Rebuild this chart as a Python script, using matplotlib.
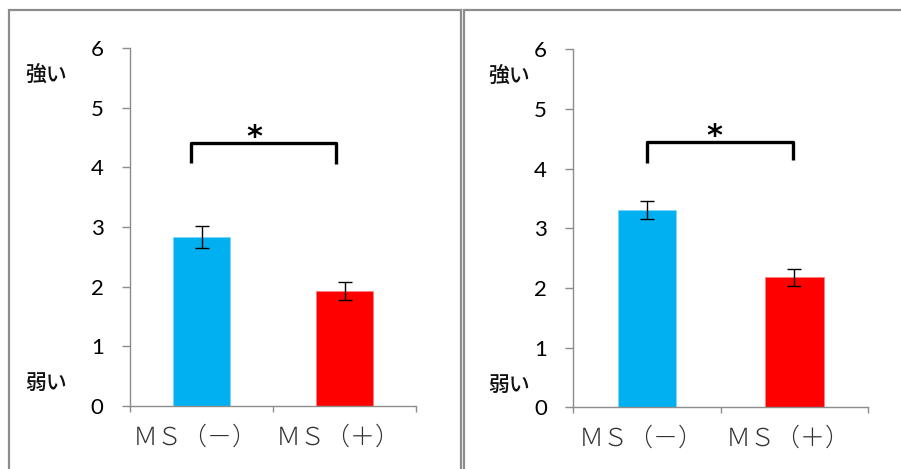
import matplotlib.pyplot as plt
from matplotlib.patches import Rectangle
from matplotlib.transforms import blended_transform_factory

plt.rcParams['font.family'] = ['Lato', 'Noto Sans CJK JP', 'DejaVu Sans']

#  Data
categories  = ["ＭＳ（－）", "ＭＳ（＋）"]
colors      = ["#00B0F0", "#FF0000"]
left_means  = [2.83, 1.93]
left_err    = [0.19, 0.15]
right_means = [3.31, 2.18]
right_err   = [0.15, 0.145]
y_ticks     = [0, 1, 2, 3, 4, 5, 6]

# bracket: x start/end, top y, left leg bottom, right leg bottom; star x, y
left_bracket  = dict(x=(-0.07, 0.94), top=4.41, legs=(4.07, 4.05), star=(0.37, 4.25))
right_bracket = dict(x=(0.0, 0.99), top=4.44, legs=(4.10, 4.15), star=(0.46, 4.29))

W, H = 901, 469
fig = plt.figure(figsize=(W / 100, H / 100), dpi=100)

#  Panel frames
grey = "#8c8c8c"
def frame(x0, y0, x1, y1):
    fig.add_artist(Rectangle((x0 / W, 1 - y1 / H), (x1 - x0) / W, (y1 - y0) / H,
                             transform=fig.transFigure, fill=False,
                             edgecolor=grey, linewidth=1.6))

frame(9, 10, 460.5, 480)
frame(464.5, 10, 920, 480)


def panel(px_left, px_right, px_top, px_bottom, means, errs, br, label_dx):
    ax = fig.add_axes([px_left / W, 1 - px_bottom / H,
                       (px_right - px_left) / W, (px_bottom - px_top) / H])
    xs = [0, 1]
    ax.bar(xs, means, width=0.4, color=colors, edgecolor=["#7fd8f8", "#ff8080"],
           linewidth=0.6, zorder=2)
    ax.errorbar(xs, means, yerr=errs, fmt="none", ecolor="black",
                elinewidth=1, capsize=5, capthick=1, zorder=3)

    ax.set_xlim(-0.5, 1.5)
    ax.set_ylim(0, 6)
    ax.set_yticks(y_ticks)
    ax.set_xticks([-0.5, 0.5, 1.5])
    ax.set_xticklabels([])
    for s in ["top", "right"]:
        ax.spines[s].set_visible(False)
    for s in ["left", "bottom"]:
        ax.spines[s].set_color(grey)
        ax.spines[s].set_linewidth(1)
    ax.tick_params(axis="y", length=6, width=1, color=grey, pad=13,
                   labelsize=16, labelcolor="black")
    ax.tick_params(axis="x", length=4.5, width=1, color=grey)

    # category labels
    tr = blended_transform_factory(ax.transData, ax.transAxes)
    for x, lab in zip(xs, categories):
        ax.text(x - 0.04, -0.087, lab, transform=tr, ha="center", va="center",
                fontsize=18, color="#333333", family=["Noto Sans CJK JP"],
                fontweight="light")

    # strong / weak labels
    tl = blended_transform_factory(ax.transAxes, ax.transData)
    ax.text(label_dx, 5.55, "強い", transform=tl, ha="center", va="center",
            fontsize=15, family=["Noto Sans CJK JP"], fontweight="medium",
            color="#111111")
    ax.text(label_dx, 0.38, "弱い", transform=tl, ha="center", va="center",
            fontsize=15, family=["Noto Sans CJK JP"], fontweight="medium",
            color="#111111")

    # significance bracket
    x0, x1 = br["x"]
    ax.plot([x0, x0, x1, x1], [br["legs"][0], br["top"], br["top"], br["legs"][1]],
            color="black", linewidth=2.4, solid_joinstyle="round",
            solid_capstyle="butt", clip_on=False, zorder=4)
    ax.text(br["star"][0], br["star"][1], "*", ha="center", va="bottom",
            fontsize=22, fontweight="bold", family=["DejaVu Sans"])
    ax.set_facecolor("none")
    return ax


panel(130, 416, 48, 406, left_means, left_err, left_bracket, -0.294)
panel(573.3, 868, 49.3, 407.3, right_means, right_err, right_bracket, -0.217)

plt.savefig("out.png", dpi=100)
